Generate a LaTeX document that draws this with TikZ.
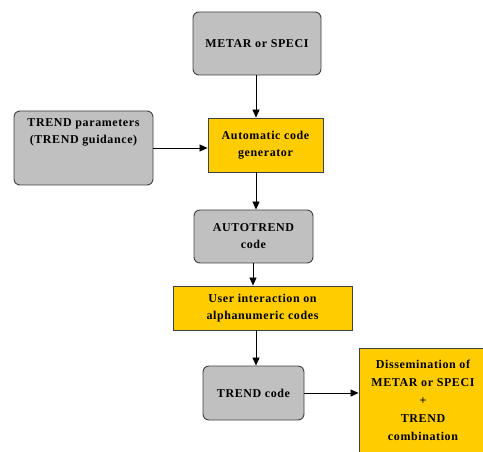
\documentclass[tikz,border=0pt]{standalone}
\usepackage{fontspec}
\setmainfont{Liberation Serif}
\usetikzlibrary{arrows.meta}
\definecolor{boxgray}{RGB}{192,192,192}
\definecolor{boxyellow}{RGB}{255,204,0}
\newcommand{\boxfont}{\bfseries\addfontfeatures{LetterSpace=5}\fontsize{12}{17}\selectfont}
\begin{document}
\begin{tikzpicture}[x=1pt,y=-1pt,
    graybox/.style={draw=black!75,fill=boxgray,rounded corners=6pt,line width=0.9pt,
      align=center,font=\boxfont,inner sep=2pt},
    yellowbox/.style={draw=black!75,fill=boxyellow,line width=0.9pt,
      align=center,font=\boxfont,inner sep=2pt},
    flow/.style={-{Triangle[width=7pt,length=8pt]},line width=0.8pt}]
  \useasboundingbox (0,0) rectangle (483,452);

  \node[graybox,minimum width=128pt,minimum height=63pt] (metar) at (257,43.5) {METAR or SPECI};
  \node[graybox,minimum width=139pt,minimum height=74pt] (param) at (83.5,148) {TREND parameters\\(TREND guidance)\\[17pt]};
  \node[yellowbox,minimum width=115pt,minimum height=54pt] (gen) at (265.5,145) {Automatic code\\generator};
  \node[graybox,minimum width=119pt,minimum height=53pt] (auto) at (253.5,236.5) {AUTOTREND\\code};
  \node[yellowbox,minimum width=179pt,minimum height=44pt] (user) at (262.5,308) {User interaction on\\alphanumeric codes};
  \node[graybox,minimum width=101pt,minimum height=54pt] (code) at (253.5,393) {TREND code};
  \node[yellowbox,minimum width=128pt,minimum height=104pt,
    font=\boxfont\fontsize{12}{18}\selectfont] (diss) at (423,400)
    {Dissemination of\\METAR or SPECI\\+\\TREND\\combination};

  \draw[flow] (metar.south -| 256,0) -- (gen.north -| 256,0);
  \draw[flow] (param.east |- 0,148) -- (gen.west |- 0,148);
  \draw[flow] (gen.south -| 256,0) -- (auto.north -| 256,0);
  \draw[flow] (auto.south -| 253,0) -- (user.north -| 253,0);
  \draw[flow] (user.south -| 256,0) -- (code.north -| 256,0);
  \draw[flow] (code.east |- 0,393) -- (diss.west |- 0,393);
\end{tikzpicture}
\end{document}
